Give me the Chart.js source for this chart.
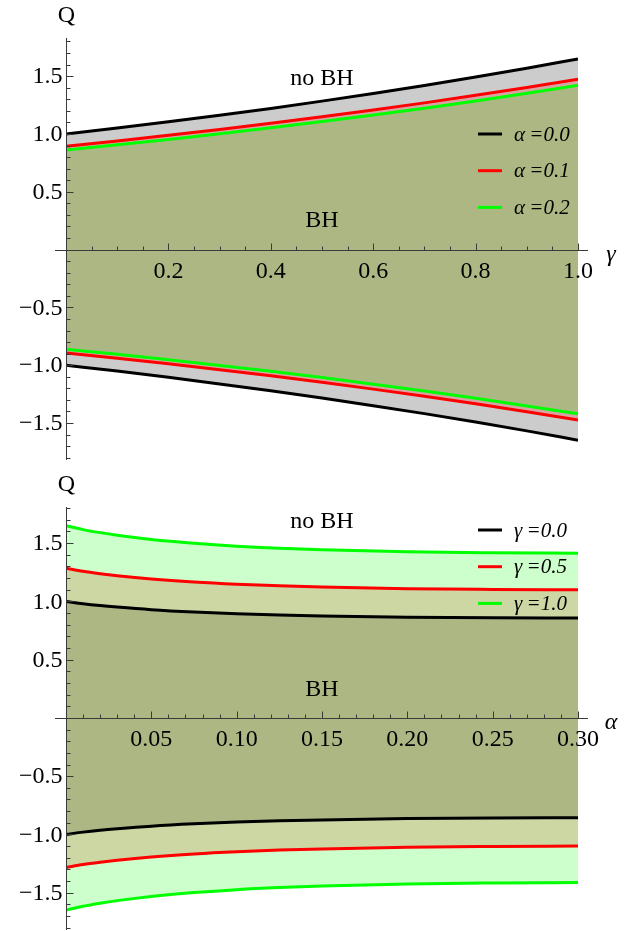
<!DOCTYPE html>
<html>
<head>
<meta charset="utf-8">
<title>Q bounds</title>
<script src="https://cdn.jsdelivr.net/npm/chart.js@4/dist/chart.umd.min.js"></script>
<style>
  body { margin: 0; background: #fff; }
  canvas { display: block; }
</style>
</head>
<body>
<canvas id="gammaChart" width="636" height="465"></canvas>
<canvas id="alphaChart" width="636" height="466"></canvas>
<script>
// Q(gamma) for fixed alpha
const gammaValues = [0, 0.1, 0.2, 0.3, 0.4, 0.5, 0.6, 0.7, 0.8, 0.9, 1.0];
const qAlpha00 = [1.000, 1.051, 1.105, 1.162, 1.221, 1.284, 1.350, 1.419, 1.492, 1.568, 1.649];
const qAlpha01 = [0.894, 0.940, 0.988, 1.039, 1.092, 1.148, 1.207, 1.269, 1.334, 1.402, 1.474];
const qAlpha02 = [0.862, 0.906, 0.953, 1.002, 1.053, 1.107, 1.164, 1.223, 1.286, 1.352, 1.421];

// Q(alpha) for fixed gamma
const alphaValues = [0, 0.01, 0.02, 0.03, 0.05, 0.075, 0.1, 0.125, 0.15, 0.2, 0.25, 0.3];
const qGamma00 = [1.000, 0.980, 0.964, 0.951, 0.929, 0.909, 0.894, 0.883, 0.875, 0.864, 0.859, 0.857];
const qGamma05 = [1.284, 1.258, 1.238, 1.221, 1.193, 1.167, 1.148, 1.134, 1.124, 1.109, 1.103, 1.100];
const qGamma10 = [1.649, 1.616, 1.590, 1.568, 1.532, 1.499, 1.474, 1.456, 1.443, 1.425, 1.417, 1.413];

const gammaTicks = [0.2, 0.4, 0.6, 0.8, 1.0];
const alphaTicks = [0.05, 0.10, 0.15, 0.20, 0.25, 0.30];
const qTicks = [1.5, 1.0, 0.5, -0.5, -1.0, -1.5];

const alphaLabels = ['\u03b1\u2009=0.0', '\u03b1\u2009=0.1', '\u03b1\u2009=0.2'];
const gammaLabels = ['\u03b3\u2009=0.0', '\u03b3\u2009=0.5', '\u03b3\u2009=1.0'];

const SERIF = '"Liberation Serif", "DejaVu Serif", serif';
const COLORS = ['#000000', '#ff0000', '#00ff00'];
const FILLS = ['rgba(0,0,0,0.2)', 'rgba(255,0,0,0.2)', 'rgba(0,255,0,0.2)'];

function pts(xs, ys, sign) {
    return xs.map((v, i) => ({ x: v, y: sign * ys[i] }));
}

// each curve gets an upper and a lower branch; the upper one is filled down to the lower
// green goes first so that black is painted first and green ends up on top
function buildDatasets(xs, curves) {
    const sets = [];
    for (let k = curves.length - 1; k >= 0; k--) {
        const common = {
            borderColor: COLORS[k],
            borderWidth: 3,
            pointRadius: 0,
            cubicInterpolationMode: 'monotone'
        };
        sets.push({ ...common, data: pts(xs, curves[k], 1), fill: '+1', backgroundColor: FILLS[k] });
        sets.push({ ...common, data: pts(xs, curves[k], -1), fill: false });
    }
    return sets;
}

function fmt(v, digits) {
    const s = Math.abs(v).toFixed(digits);
    return v < 0 ? '\u2212' + s : s;
}

const originAxes = {
    id: 'originAxes',
    afterDatasetsDraw(chart, args, opts) {
        const { ctx, chartArea: area, scales: { x, y } } = chart;
        const x0 = Math.round(x.getPixelForValue(0)) + 0.5;
        const y0 = Math.round(y.getPixelForValue(0)) + 0.5;
        ctx.save();
        ctx.strokeStyle = '#3a3a3a';
        ctx.lineWidth = 1;
        ctx.beginPath();
        ctx.moveTo(x0, area.top);
        ctx.lineTo(x0, area.bottom);
        ctx.moveTo(area.left - 11, y0);
        ctx.lineTo(area.right + 10, y0);

        // x ticks point up, majors every xMajor, minors every xMinor
        const nx = Math.round(x.max / opts.xMinor);
        const perX = Math.round(opts.xMajor / opts.xMinor);
        for (let i = 1; i <= nx; i++) {
            const px = Math.round(x.getPixelForValue(i * opts.xMinor)) + 0.5;
            ctx.moveTo(px, y0);
            ctx.lineTo(px, y0 - (i % perX === 0 ? 7 : 4));
        }
        // y ticks point right
        const perY = Math.round(opts.yMajor / opts.yMinor);
        const lo = Math.ceil(y.min / opts.yMinor), hi = Math.floor(y.max / opts.yMinor);
        for (let i = lo; i <= hi; i++) {
            if (i === 0) continue;
            const py = Math.round(y.getPixelForValue(i * opts.yMinor)) + 0.5;
            ctx.moveTo(x0, py);
            ctx.lineTo(x0 + (i % perY === 0 ? 7 : 4), py);
        }
        ctx.stroke();

        ctx.fillStyle = '#000';
        ctx.font = '24px ' + SERIF;
        ctx.textBaseline = 'middle';
        ctx.textAlign = 'center';
        opts.xTicks.forEach(v => {
            ctx.fillText(v.toFixed(opts.xDigits), x.getPixelForValue(v), y0 + 21);
        });
        ctx.textAlign = 'right';
        qTicks.forEach(v => {
            ctx.fillText(fmt(v, 1), x0 - 4, y.getPixelForValue(v) + 1);
        });

        // axis names
        ctx.textAlign = 'center';
        ctx.fillText('Q', x0, area.top - 22);
        ctx.font = 'italic 24px ' + SERIF;
        ctx.fillText(opts.xName, area.right + 33, y0 + 4);

        // region names
        ctx.font = '24px ' + SERIF;
        opts.regions.forEach(r => {
            ctx.fillText(r.text, x.getPixelForValue(r.x), y.getPixelForValue(r.y));
        });

        // legend
        ctx.textAlign = 'left';
        ctx.font = 'italic 21px ' + SERIF;
        ctx.lineWidth = 3;
        opts.legend.forEach((text, i) => {
            const ly = area.top + opts.legendTop + i * 36.7;
            const lx = area.left + opts.legendLeft;
            ctx.strokeStyle = COLORS[i];
            ctx.beginPath();
            ctx.moveTo(lx, ly);
            ctx.lineTo(lx + 24, ly);
            ctx.stroke();
            ctx.fillText(text, lx + 36, ly + 1);
        });
        ctx.restore();
    }
};

function makeChart(id, xs, curves, xMax, yMin, yMax, padding, axisOpts) {
    return new Chart(document.getElementById(id), {
        type: 'line',
        data: { datasets: buildDatasets(xs, curves) },
        options: {
            responsive: false,
            animation: false,
            layout: { padding: padding },
            scales: {
                x: { type: 'linear', min: 0, max: xMax, display: false },
                y: { type: 'linear', min: yMin, max: yMax, display: false }
            },
            plugins: {
                legend: { display: false },
                tooltip: { enabled: false },
                filler: { propagate: false, drawTime: 'beforeDatasetsDraw' },
                originAxes: axisOpts
            }
        },
        plugins: [originAxes]
    });
}

makeChart('gammaChart', gammaValues, [qAlpha00, qAlpha01, qAlpha02], 1.0, -1.82, 1.83,
    { left: 66, right: 58, top: 38, bottom: 5 },
    {
        xMajor: 0.2, xMinor: 0.05, yMajor: 0.5, yMinor: 0.1,
        xTicks: gammaTicks, xDigits: 1, xName: '\u03b3',
        regions: [{ text: 'no BH', x: 0.5, y: 1.48 }, { text: 'BH', x: 0.5, y: 0.25 }],
        legend: alphaLabels, legendLeft: 412, legendTop: 96
    });

makeChart('alphaChart', alphaValues, [qGamma00, qGamma05, qGamma10], 0.3, -1.82, 1.81,
    { left: 66, right: 58, top: 42, bottom: 1 },
    {
        xMajor: 0.05, xMinor: 0.01, yMajor: 0.5, yMinor: 0.1,
        xTicks: alphaTicks, xDigits: 2, xName: '\u03b1',
        regions: [{ text: 'no BH', x: 0.15, y: 1.68 }, { text: 'BH', x: 0.15, y: 0.24 }],
        legend: gammaLabels, legendLeft: 412, legendTop: 23
    });
</script>
</body>
</html>
